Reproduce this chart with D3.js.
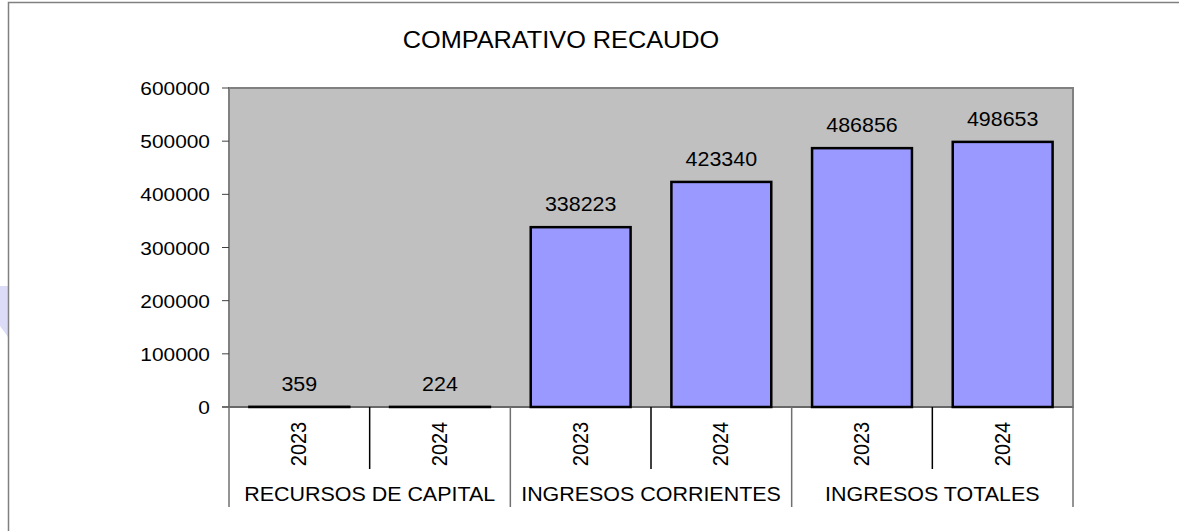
<!DOCTYPE html>
<meta charset="utf-8">
<style>
  body { margin: 0; background: #fff; }
  text { font-family: "Liberation Sans", Arial, sans-serif; fill: #000; }
</style>
<body>
<script src="https://d3js.org/d3.v7.min.js"></script>
<script>
  var groups = ["RECURSOS DE CAPITAL", "INGRESOS CORRIENTES", "INGRESOS TOTALES"];
  var years = ["2023", "2024"];
  var values = [359, 224, 338223, 423340, 486856, 498653];
  var yTicks = [0, 100000, 200000, 300000, 400000, 500000, 600000];

  var W = 1179, H = 531;
  var plot = { left: 229, right: 1073, top: 88, bottom: 407 };
  var sx = 1.1; // the source picture is stretched a bit sideways

  var svg = d3.select("body").append("svg")
    .attr("width", W)
    .attr("height", H);

  // little lavender shape peeking in on the left
  svg.append("polygon")
    .attr("points", "0,286 8,286 8,337 0,326")
    .attr("fill", "#dcdcf8");

  // outer frame (runs off the right and bottom)
  svg.append("rect")
    .attr("x", 8.5).attr("y", 2.5)
    .attr("width", W + 20).attr("height", H + 20)
    .attr("fill", "none")
    .attr("stroke", "#808080")
    .attr("stroke-width", 1.5);

  var cells = [];
  groups.forEach(function (g, gi) {
    years.forEach(function (yr, yi) {
      cells.push({ group: g, year: yr, value: values[gi * years.length + yi], i: gi * years.length + yi });
    });
  });

  var x = d3.scaleBand()
    .domain(d3.range(cells.length))
    .range([plot.left, plot.right])
    .padding(0);

  var y = d3.scaleLinear()
    .domain([0, 600000])
    .range([plot.bottom, plot.top]);

  function txt(sel, xx, yy, extra) {
    return sel.attr("transform", "translate(" + xx + "," + yy + ") scale(" + sx + ",1)" + (extra || ""));
  }

  // title
  txt(svg.append("text"), 561, 48)
    .attr("text-anchor", "middle")
    .style("font-size", "23px")
    .text("COMPARATIVO RECAUDO");

  // plot background
  svg.append("rect")
    .attr("x", plot.left).attr("y", plot.top)
    .attr("width", plot.right - plot.left)
    .attr("height", plot.bottom - plot.top)
    .attr("fill", "#c0c0c0")
    .attr("stroke", "#808080")
    .attr("stroke-width", 2);

  // y axis
  var yAxis = svg.append("g");
  yAxis.selectAll("line")
    .data(yTicks)
    .enter().append("line")
    .attr("x1", plot.left - 7).attr("x2", plot.left)
    .attr("y1", function (d) { return y(d); })
    .attr("y2", function (d) { return y(d); })
    .attr("stroke", "#404040")
    .attr("stroke-width", 1);
  yAxis.selectAll("text")
    .data(yTicks)
    .enter().append("text")
    .each(function (d) { txt(d3.select(this), 210, y(d) + 7); })
    .attr("text-anchor", "end")
    .style("font-size", "19px")
    .text(function (d) { return d; });

  // x axis line
  svg.append("line")
    .attr("x1", plot.left - 7).attr("x2", plot.right)
    .attr("y1", plot.bottom).attr("y2", plot.bottom)
    .attr("stroke", "#606060")
    .attr("stroke-width", 1.5);

  // bars
  var bw = x.bandwidth() * 0.71;
  svg.append("g").selectAll("rect")
    .data(cells)
    .enter().append("rect")
    .attr("x", function (d) { return x(d.i) + (x.bandwidth() - bw) / 2; })
    .attr("y", function (d) { return y(d.value); })
    .attr("width", bw)
    .attr("height", function (d) { return y(0) - y(d.value); })
    .attr("fill", "#9999ff")
    .attr("stroke", "#000")
    .attr("stroke-width", 2.5);

  // value labels
  svg.append("g").selectAll("text")
    .data(cells)
    .enter().append("text")
    .each(function (d) { txt(d3.select(this), x(d.i) + x.bandwidth() / 2, y(d.value) - 16); })
    .attr("text-anchor", "middle")
    .style("font-size", "19.5px")
    .text(function (d) { return d.value; });

  // category dividers
  var bounds = d3.range(cells.length + 1);
  svg.append("g").selectAll("line")
    .data(bounds)
    .enter().append("line")
    .attr("x1", function (d) { return d < cells.length ? x(d) : plot.right; })
    .attr("x2", function (d) { return d < cells.length ? x(d) : plot.right; })
    .attr("y1", plot.bottom)
    .attr("y2", function (d) { return d % years.length === 0 ? 507 : 469; })
    .attr("stroke", function (d) { return d % years.length === 0 ? "#707070" : "#000"; })
    .attr("stroke-width", 1.5);

  // year labels
  svg.append("g").selectAll("text")
    .data(cells)
    .enter().append("text")
    .each(function (d) { txt(d3.select(this), x(d.i) + x.bandwidth() / 2 + 7, 444, " rotate(-90)"); })
    .attr("text-anchor", "middle")
    .style("font-size", "20px")
    .text(function (d) { return d.year; });

  // group labels
  svg.append("g").selectAll("text")
    .data(groups)
    .enter().append("text")
    .each(function (d, gi) {
      var cx = (x(gi * years.length) + x(gi * years.length + years.length - 1) + x.bandwidth()) / 2;
      txt(d3.select(this), cx, 501);
    })
    .attr("text-anchor", "middle")
    .style("font-size", "19.5px")
    .text(function (d) { return d; });
</script>
</body>
